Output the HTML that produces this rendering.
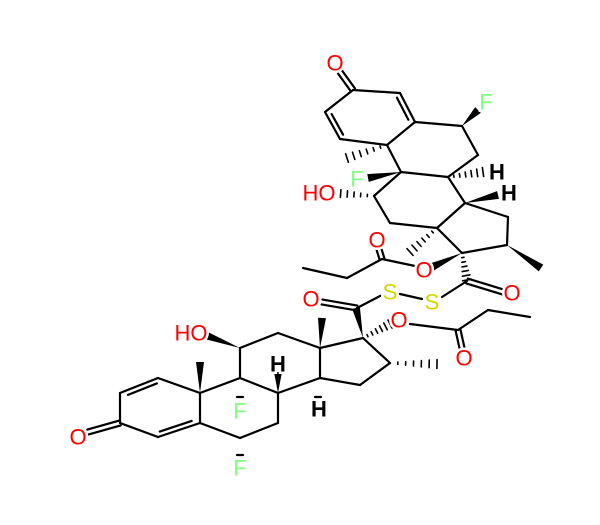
<!DOCTYPE html>
<html><head><meta charset="utf-8"><style>
html,body{margin:0;padding:0;background:#fff;}
svg{display:block}
text{font-family:"Liberation Sans",sans-serif;font-size:22px;text-anchor:middle;dominant-baseline:central;paint-order:stroke;stroke:#fff;stroke-width:5px;}
.O{fill:#ff0000}.F{fill:#80ff80}.S{fill:#d4d400}.H{fill:#000;font-weight:bold}
</style></head><body>
<svg id="s" width="600" height="525" viewBox="0 0 600 525" xmlns="http://www.w3.org/2000/svg">
<g id="b" stroke="#000" stroke-width="2.2" fill="#000" stroke-linecap="round"></g>
<g id="t">
<text class="O" x="335" y="63">O</text>
<text class="F" x="486" y="102">F</text>
<text class="F" x="357" y="179">F</text>
<text class="O" x="319" y="193">HO</text>
<text class="H" x="497" y="172">H</text>
<text class="H" x="509" y="193">H</text>
<text class="O" x="377" y="240">O</text>
<text class="O" x="424" y="270">O</text>
<text class="O" x="512" y="293">O</text>
<text class="S" x="390" y="292">S</text>
<text class="S" x="432" y="302">S</text>
<text class="O" x="311" y="299">O</text>
<text class="O" x="399" y="320">O</text>
<text class="O" x="464" y="358">O</text>
<text class="O" x="191" y="333">HO</text>
<text class="H" x="278" y="364">H</text>
<text class="F" x="240" y="411">F</text>
<text class="H" x="319" y="409">H</text>
<text class="O" x="78" y="437">O</text>
<text class="F" x="240" y="468">F</text>
</g>
</svg>
<script>
var g=document.getElementById('b'),NS='http://www.w3.org/2000/svg';
function L(a,b,c,d){var e=document.createElementNS(NS,'line');e.setAttribute('x1',a);e.setAttribute('y1',b);e.setAttribute('x2',c);e.setAttribute('y2',d);g.appendChild(e);}
function D(a,b,c,d,cx,cy){L(a,b,c,d);var mx=(a+c)/2,my=(b+d)/2,vx=cx-mx,vy=cy-my,n=Math.hypot(vx,vy);vx*=5/n;vy*=5/n;var dx=(c-a)*0.12,dy=(d-b)*0.12;L(a+dx+vx,b+dy+vy,c-dx+vx,d-dy+vy);}
function D2(a,b,c,d){var dx=c-a,dy=d-b,n=Math.hypot(dx,dy),px=-dy/n*2.5,py=dx/n*2.5;L(a+px,b+py,c+px,d+py);L(a-px,b-py,c-px,d-py);}
function W(a,b,c,d){var dx=c-a,dy=d-b,n=Math.hypot(dx,dy),px=-dy/n*4,py=dx/n*4;var p=document.createElementNS(NS,'polygon');p.setAttribute('points',a+','+b+' '+(c+px)+','+(d+py)+' '+(c-px)+','+(d-py));p.setAttribute('stroke','none');g.appendChild(p);}
function H(a,b,c,d){var dx=c-a,dy=d-b,n=Math.hypot(dx,dy),ux=-dy/n,uy=dx/n;for(var i=1;i<=6;i++){var t=i/6,w=4*t+0.5,x=a+dx*t,y=b+dy*t;var e=document.createElementNS(NS,'line');e.setAttribute('x1',x+ux*w);e.setAttribute('y1',y+uy*w);e.setAttribute('x2',x-ux*w);e.setAttribute('y2',y-uy*w);e.setAttribute('stroke-width','1.6');g.appendChild(e);}}
var C3=[353,90],C4=[400,93],C5=[415,122],C10=[387,145],C1=[340,139],C2=[325,112];
var C6=[462,126],C7=[478,155],C8=[448,177],C9=[401,172],C11=[374,196],C12=[390,223],C13=[437,228],C14=[465,203],C15=[508,217],C16=[507,245],C17=[462,253];
var cA=[370,117];
L(C3[0],C3[1],C4[0],C4[1]);D(C4[0],C4[1],C5[0],C5[1],cA[0],cA[1]);L(C5[0],C5[1],C10[0],C10[1]);L(C10[0],C10[1],C1[0],C1[1]);D(C1[0],C1[1],C2[0],C2[1],cA[0],cA[1]);L(C2[0],C2[1],C3[0],C3[1]);
D2(C3[0],C3[1],340,72);
L(C5[0],C5[1],C6[0],C6[1]);L(C6[0],C6[1],C7[0],C7[1]);L(C7[0],C7[1],C8[0],C8[1]);L(C8[0],C8[1],C9[0],C9[1]);L(C9[0],C9[1],C10[0],C10[1]);
W(C6[0],C6[1],478,110);H(C8[0],C8[1],483,172);W(C9[0],C9[1],368,178);H(C10[0],C10[1],347,158);
L(C9[0],C9[1],C11[0],C11[1]);L(C11[0],C11[1],C12[0],C12[1]);L(C12[0],C12[1],C13[0],C13[1]);L(C13[0],C13[1],C14[0],C14[1]);L(C14[0],C14[1],C8[0],C8[1]);
H(C11[0],C11[1],334,193);W(C14[0],C14[1],498,195);
L(C14[0],C14[1],C15[0],C15[1]);L(C15[0],C15[1],C16[0],C16[1]);L(C16[0],C16[1],C17[0],C17[1]);L(C17[0],C17[1],C13[0],C13[1]);
W(C16[0],C16[1],541,268);H(C13[0],C13[1],410,252);W(C17[0],C17[1],432,267);
L(415,266,382,259);D2(382,259,378,246);L(382,259,347,278);L(347,278,303,268);
H(C17[0],C17[1],467,280);D2(467,281,503,292);L(467,281,442,297);L(422,299,400,294);
var b3=[120,423],b2=[120,393],b1=[158,378],b10=[200,393],b5=[200,423],b4=[158,437],cB=[160,408];
L(b3[0],b3[1],b2[0],b2[1]);D(b2[0],b2[1],b1[0],b1[1],cB[0],cB[1]);L(b1[0],b1[1],b10[0],b10[1]);L(b10[0],b10[1],b5[0],b5[1]);D(b5[0],b5[1],b4[0],b4[1],cB[0],cB[1]);L(b4[0],b4[1],b3[0],b3[1]);
D2(b3[0],b3[1],88,432);
W(b10[0],b10[1],200,362);
var b9=[240,378],b11=[240,348],b12=[278,333],b13=[320,348],b14=[320,378],b8=[278,393],b7=[278,423],b6=[240,438],b15=[360,385],b16=[390,363],b17=[363,338];
L(b10[0],b10[1],b9[0],b9[1]);L(b9[0],b9[1],b11[0],b11[1]);L(b11[0],b11[1],b12[0],b12[1]);L(b12[0],b12[1],b13[0],b13[1]);L(b13[0],b13[1],b14[0],b14[1]);L(b14[0],b14[1],b8[0],b8[1]);L(b8[0],b8[1],b9[0],b9[1]);
L(b8[0],b8[1],b7[0],b7[1]);L(b7[0],b7[1],b6[0],b6[1]);L(b6[0],b6[1],b5[0],b5[1]);
W(b11[0],b11[1],205,335);W(b8[0],b8[1],278,372);L(237,397,243,397);L(237,455,243,455);L(315,397,321,397);
L(b14[0],b14[1],b15[0],b15[1]);L(b15[0],b15[1],b16[0],b16[1]);L(b16[0],b16[1],b17[0],b17[1]);L(b17[0],b17[1],b13[0],b13[1]);
W(b13[0],b13[1],322,318);H(b16[0],b16[1],437,364);
W(b17[0],b17[1],356,308);D2(357,308,322,302);L(357,308,382,295);
H(b17[0],b17[1],390,324);L(410,324,458,330);D2(458,330,462,348);L(458,330,488,310);L(488,310,530,317);
</script>
</body></html>
